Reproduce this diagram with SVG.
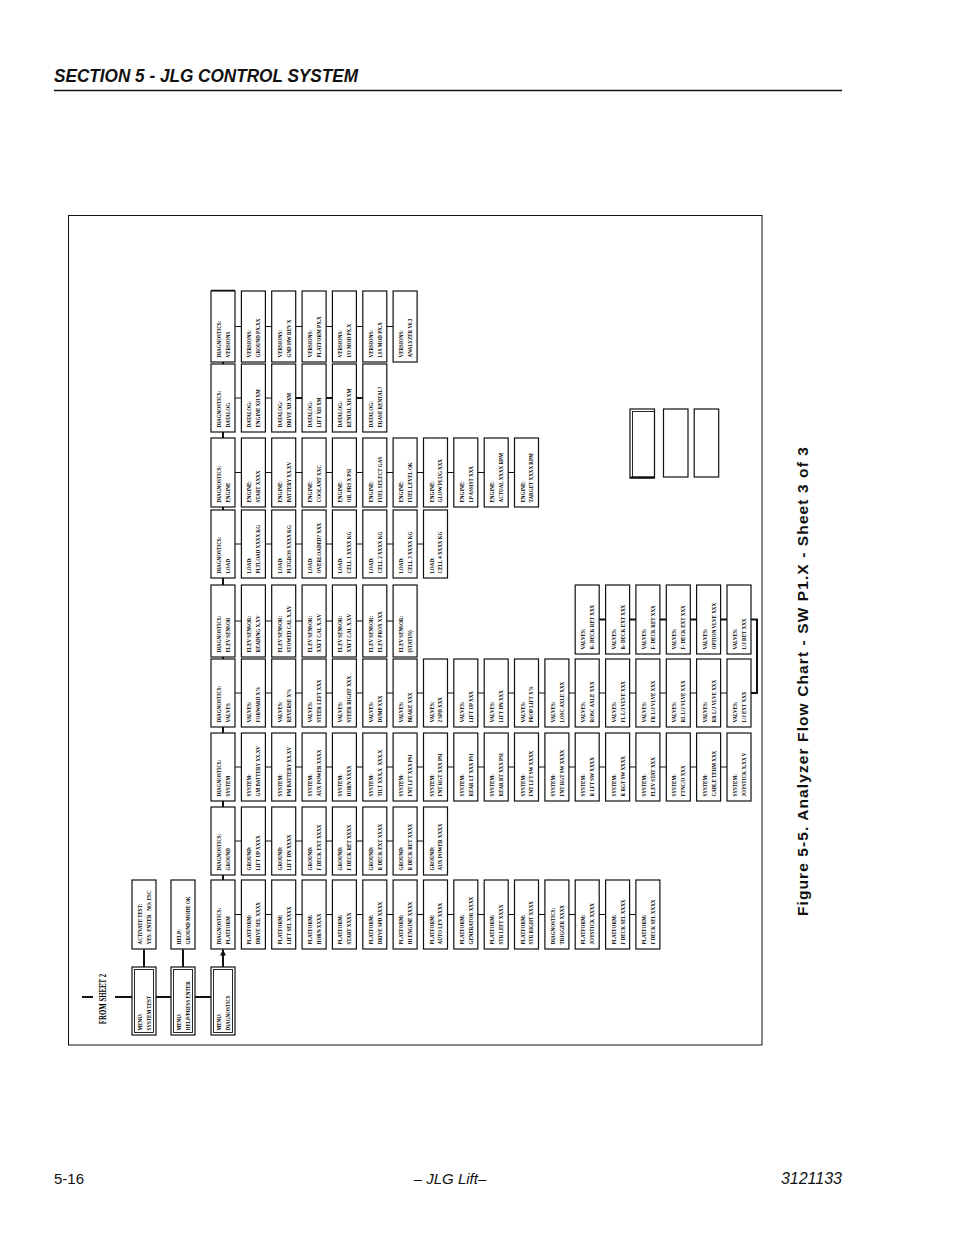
<svg xmlns="http://www.w3.org/2000/svg" width="954" height="1235" viewBox="0 0 954 1235">
<style>
.b{fill:#fff;stroke:#111;stroke-width:1.2}
.t{font-family:"Liberation Serif",serif;font-size:7px;font-weight:bold;fill:#000}
.c{fill:none;stroke:#111;stroke-width:1}
.k{fill:none;stroke:#111;stroke-width:2}
</style>
<defs>
<marker id="ah" viewBox="0 0 10 10" refX="10" refY="5" markerWidth="6" markerHeight="6" markerUnits="userSpaceOnUse" orient="auto"><path d="M0,0 L10,5 L0,10z" fill="#111"/></marker>
</defs>
<rect width="954" height="1235" fill="#fff"/>
<g id="page">
<text x="54" y="82" font-family="Liberation Sans,sans-serif" font-size="18" font-weight="bold" font-style="italic" fill="#111" textLength="304" lengthAdjust="spacingAndGlyphs">SECTION 5 - JLG CONTROL SYSTEM</text>
<line x1="54" y1="90.5" x2="842" y2="90.5" stroke="#111" stroke-width="1.5"/>
<rect x="68.5" y="215.5" width="693.5" height="829.5" fill="none" stroke="#111" stroke-width="1"/>
<text transform="translate(808,681) rotate(-90)" text-anchor="middle" font-family="Liberation Sans,sans-serif" font-size="15.5" font-weight="bold" letter-spacing="1.1" fill="#111">Figure 5-5. Analyzer Flow Chart - SW P1.X - Sheet 3 of 3</text>
<text x="54" y="1184" font-family="Liberation Sans,sans-serif" font-size="15" fill="#111">5-16</text>
<text x="450" y="1184" text-anchor="middle" font-family="Liberation Sans,sans-serif" font-size="15" font-style="italic" fill="#111">– JLG Lift–</text>
<text x="842" y="1184" text-anchor="end" font-family="Liberation Sans,sans-serif" font-size="16" font-style="italic" fill="#111">3121133</text>
</g>
<g id="connectors">
<path class="k" d="M223 880V362"/>
<path class="c" d="M235 914.5H635.9M235 841H423.5M235 767H727M235 693H727M235 621H393.1M235 544H423.5M235 472.5H514.5M235 398H362.8M235 326.5H393.1"/>
<path class="k" d="M599.2 619.5H727M751 693H757V619.5H751M295.7 398H362.8"/>
<line x1="211" y1="291" x2="235" y2="291" stroke="#111" stroke-width="2.5"/>
<line x1="82" y1="997" x2="93" y2="997" stroke="#111" stroke-width="2"/>
<path class="k" marker-end="url(#ah)" d="M115 997H132M156 997H171M195 997H211M144 967V949.5M183 967V949.5M223 967V949.5"/>
<text class="t" transform="translate(106,999) rotate(-90) scale(.72,1)" text-anchor="middle" style="font-size:9.5px">FROM SHEET 2</text>
</g>
<g id="menu-system-test"><rect class="b" x="132" y="967" width="24" height="68" stroke-width="1.6"/><rect x="134.5" y="969.5" width="19" height="63" fill="none" stroke="#111" stroke-width="0.9"/><text class="t" transform="translate(142,1030.5) rotate(-90) scale(.72,1)"><tspan x="0">MENU:</tspan><tspan x="0" y="9">SYSTEM TEST</tspan></text></g>
<g id="menu-help"><rect class="b" x="171" y="967" width="24" height="68" stroke-width="1.6"/><rect x="173.5" y="969.5" width="19" height="63" fill="none" stroke="#111" stroke-width="0.9"/><text class="t" transform="translate(181,1030.5) rotate(-90) scale(.72,1)"><tspan x="0">MENU:</tspan><tspan x="0" y="9">HELP/PRESS ENTER</tspan></text></g>
<g id="menu-diagnostics"><rect class="b" x="211" y="967" width="24" height="68" stroke-width="1.6"/><rect x="213.5" y="969.5" width="19" height="63" fill="none" stroke="#111" stroke-width="0.9"/><text class="t" transform="translate(221,1030.5) rotate(-90) scale(.72,1)"><tspan x="0">MENU:</tspan><tspan x="0" y="9">DIAGNOSTICS</tspan></text></g>
<g id="activate-test"><rect class="b" x="132" y="880" width="24" height="69"/><text class="t" xml:space="preserve" transform="translate(142,944.5) rotate(-90) scale(.72,1)"><tspan x="0">ACTIVATE TEST:</tspan><tspan x="0" y="9">YES: ENTER   NO: ESC</tspan></text></g>
<g id="help-ground"><rect class="b" x="171" y="880" width="24" height="69"/><text class="t" transform="translate(181,944.5) rotate(-90) scale(.72,1)"><tspan x="0">HELP:</tspan><tspan x="0" y="9">GROUND MODE OK</tspan></text></g>

<g id="platform-row">
<g id="p0"><rect class="b" x="211" y="880" width="24" height="69"/><text class="t" transform="translate(221,944.5) rotate(-90) scale(.72,1)"><tspan x="0">DIAGNOSTICS:</tspan><tspan x="0" y="9">PLATFORM</tspan></text></g>
<g id="p1"><rect class="b" x="241.4" y="880" width="24" height="69"/><text class="t" transform="translate(251.4,944.5) rotate(-90) scale(.72,1)"><tspan x="0">PLATFORM:</tspan><tspan x="0" y="9">DRIVE SEL XXXX</tspan></text></g>
<g id="p2"><rect class="b" x="271.7" y="880" width="24" height="69"/><text class="t" transform="translate(281.7,944.5) rotate(-90) scale(.72,1)"><tspan x="0">PLATFORM:</tspan><tspan x="0" y="9">LIFT SEL XXXX</tspan></text></g>
<g id="p3"><rect class="b" x="302.1" y="880" width="24" height="69"/><text class="t" transform="translate(312.1,944.5) rotate(-90) scale(.72,1)"><tspan x="0">PLATFORM:</tspan><tspan x="0" y="9">HORN XXXX</tspan></text></g>
<g id="p4"><rect class="b" x="332.4" y="880" width="24" height="69"/><text class="t" transform="translate(342.4,944.5) rotate(-90) scale(.72,1)"><tspan x="0">PLATFORM:</tspan><tspan x="0" y="9">START XXXX</tspan></text></g>
<g id="p5"><rect class="b" x="362.8" y="880" width="24" height="69"/><text class="t" transform="translate(372.8,944.5) rotate(-90) scale(.72,1)"><tspan x="0">PLATFORM:</tspan><tspan x="0" y="9">DRIVE SPD XXXX</tspan></text></g>
<g id="p6"><rect class="b" x="393.1" y="880" width="24" height="69"/><text class="t" transform="translate(403.1,944.5) rotate(-90) scale(.72,1)"><tspan x="0">PLATFORM:</tspan><tspan x="0" y="9">HI ENGINE XXXX</tspan></text></g>
<g id="p7"><rect class="b" x="423.5" y="880" width="24" height="69"/><text class="t" transform="translate(433.5,944.5) rotate(-90) scale(.72,1)"><tspan x="0">PLATFORM:</tspan><tspan x="0" y="9">AUTO LEV XXXX</tspan></text></g>
<g id="p8"><rect class="b" x="453.8" y="880" width="24" height="69"/><text class="t" transform="translate(463.8,944.5) rotate(-90) scale(.72,1)"><tspan x="0">PLATFORM:</tspan><tspan x="0" y="9">GENERATOR XXXX</tspan></text></g>
<g id="p9"><rect class="b" x="484.2" y="880" width="24" height="69"/><text class="t" transform="translate(494.2,944.5) rotate(-90) scale(.72,1)"><tspan x="0">PLATFORM:</tspan><tspan x="0" y="9">STR LEFT XXXX</tspan></text></g>
<g id="p10"><rect class="b" x="514.5" y="880" width="24" height="69"/><text class="t" transform="translate(524.5,944.5) rotate(-90) scale(.72,1)"><tspan x="0">PLATFORM:</tspan><tspan x="0" y="9">STR RIGHT XXXX</tspan></text></g>
<g id="p11"><rect class="b" x="544.9" y="880" width="24" height="69"/><text class="t" transform="translate(554.9,944.5) rotate(-90) scale(.72,1)"><tspan x="0">DIAGNOSTICS:</tspan><tspan x="0" y="9">TRIGGER XXXX</tspan></text></g>
<g id="p12"><rect class="b" x="575.2" y="880" width="24" height="69"/><text class="t" transform="translate(585.2,944.5) rotate(-90) scale(.72,1)"><tspan x="0">PLATFORM:</tspan><tspan x="0" y="9">JOYSTICK XXXX</tspan></text></g>
<g id="p13"><rect class="b" x="605.6" y="880" width="24" height="69"/><text class="t" transform="translate(615.6,944.5) rotate(-90) scale(.72,1)"><tspan x="0">PLATFORM:</tspan><tspan x="0" y="9">F DECK SEL XXXX</tspan></text></g>
<g id="p14"><rect class="b" x="635.9" y="880" width="24" height="69"/><text class="t" transform="translate(645.9,944.5) rotate(-90) scale(.72,1)"><tspan x="0">PLATFORM:</tspan><tspan x="0" y="9">F DECK SEL XXXX</tspan></text></g>
</g>

<g id="ground-row">
<g id="g0"><rect class="b" x="211" y="807" width="24" height="68"/><text class="t" transform="translate(221,870.5) rotate(-90) scale(.72,1)"><tspan x="0">DIAGNOSTICS:</tspan><tspan x="0" y="9">GROUND</tspan></text></g>
<g id="g1"><rect class="b" x="241.4" y="807" width="24" height="68"/><text class="t" transform="translate(251.4,870.5) rotate(-90) scale(.72,1)"><tspan x="0">GROUND:</tspan><tspan x="0" y="9">LIFT UP XXXX</tspan></text></g>
<g id="g2"><rect class="b" x="271.7" y="807" width="24" height="68"/><text class="t" transform="translate(281.7,870.5) rotate(-90) scale(.72,1)"><tspan x="0">GROUND:</tspan><tspan x="0" y="9">LIFT DN XXXX</tspan></text></g>
<g id="g3"><rect class="b" x="302.1" y="807" width="24" height="68"/><text class="t" transform="translate(312.1,870.5) rotate(-90) scale(.72,1)"><tspan x="0">GROUND:</tspan><tspan x="0" y="9">F DECK EXT XXXX</tspan></text></g>
<g id="g4"><rect class="b" x="332.4" y="807" width="24" height="68"/><text class="t" transform="translate(342.4,870.5) rotate(-90) scale(.72,1)"><tspan x="0">GROUND:</tspan><tspan x="0" y="9">F DECK RET XXXX</tspan></text></g>
<g id="g5"><rect class="b" x="362.8" y="807" width="24" height="68"/><text class="t" transform="translate(372.8,870.5) rotate(-90) scale(.72,1)"><tspan x="0">GROUND:</tspan><tspan x="0" y="9">R DECK EXT XXXX</tspan></text></g>
<g id="g6"><rect class="b" x="393.1" y="807" width="24" height="68"/><text class="t" transform="translate(403.1,870.5) rotate(-90) scale(.72,1)"><tspan x="0">GROUND:</tspan><tspan x="0" y="9">R DECK RET XXXX</tspan></text></g>
<g id="g7"><rect class="b" x="423.5" y="807" width="24" height="68"/><text class="t" transform="translate(433.5,870.5) rotate(-90) scale(.72,1)"><tspan x="0">GROUND:</tspan><tspan x="0" y="9">AUX POWER XXXX</tspan></text></g>
</g>

<g id="system-row">
<g id="s0"><rect class="b" x="211" y="733" width="24" height="68"/><text class="t" transform="translate(221,796.5) rotate(-90) scale(.72,1)"><tspan x="0">DIAGNOSTICS:</tspan><tspan x="0" y="9">SYSTEM</tspan></text></g>
<g id="s1"><rect class="b" x="241.4" y="733" width="24" height="68"/><text class="t" transform="translate(251.4,796.5) rotate(-90) scale(.72,1)"><tspan x="0">SYSTEM:</tspan><tspan x="0" y="9">GM BATTERY XX.XV</tspan></text></g>
<g id="s2"><rect class="b" x="271.7" y="733" width="24" height="68"/><text class="t" transform="translate(281.7,796.5) rotate(-90) scale(.72,1)"><tspan x="0">SYSTEM:</tspan><tspan x="0" y="9">PM BATTERY XX.XV</tspan></text></g>
<g id="s3"><rect class="b" x="302.1" y="733" width="24" height="68"/><text class="t" transform="translate(312.1,796.5) rotate(-90) scale(.72,1)"><tspan x="0">SYSTEM:</tspan><tspan x="0" y="9">AUX POWER XXXX</tspan></text></g>
<g id="s4"><rect class="b" x="332.4" y="733" width="24" height="68"/><text class="t" transform="translate(342.4,796.5) rotate(-90) scale(.72,1)"><tspan x="0">SYSTEM:</tspan><tspan x="0" y="9">HORN XXXX</tspan></text></g>
<g id="s5"><rect class="b" x="362.8" y="733" width="24" height="68"/><text class="t" xml:space="preserve" transform="translate(372.8,796.5) rotate(-90) scale(.72,1)"><tspan x="0">SYSTEM:</tspan><tspan x="0" y="9">TILT XXX.X  XXX.X</tspan></text></g>
<g id="s6"><rect class="b" x="393.1" y="733" width="24" height="68"/><text class="t" transform="translate(403.1,796.5) rotate(-90) scale(.72,1)"><tspan x="0">SYSTEM:</tspan><tspan x="0" y="9">FNT LFT XXX PSI</tspan></text></g>
<g id="s7"><rect class="b" x="423.5" y="733" width="24" height="68"/><text class="t" transform="translate(433.5,796.5) rotate(-90) scale(.72,1)"><tspan x="0">SYSTEM:</tspan><tspan x="0" y="9">FNT RGT XXX PSI</tspan></text></g>
<g id="s8"><rect class="b" x="453.8" y="733" width="24" height="68"/><text class="t" transform="translate(463.8,796.5) rotate(-90) scale(.72,1)"><tspan x="0">SYSTEM:</tspan><tspan x="0" y="9">REAR LT XXX PSI</tspan></text></g>
<g id="s9"><rect class="b" x="484.2" y="733" width="24" height="68"/><text class="t" transform="translate(494.2,796.5) rotate(-90) scale(.72,1)"><tspan x="0">SYSTEM:</tspan><tspan x="0" y="9">REAR RT XXX PSI</tspan></text></g>
<g id="s10"><rect class="b" x="514.5" y="733" width="24" height="68"/><text class="t" transform="translate(524.5,796.5) rotate(-90) scale(.72,1)"><tspan x="0">SYSTEM:</tspan><tspan x="0" y="9">FNT LFT SW XXXX</tspan></text></g>
<g id="s11"><rect class="b" x="544.9" y="733" width="24" height="68"/><text class="t" transform="translate(554.9,796.5) rotate(-90) scale(.72,1)"><tspan x="0">SYSTEM:</tspan><tspan x="0" y="9">FNT RGT SW XXXX</tspan></text></g>
<g id="s12"><rect class="b" x="575.2" y="733" width="24" height="68"/><text class="t" transform="translate(585.2,796.5) rotate(-90) scale(.72,1)"><tspan x="0">SYSTEM:</tspan><tspan x="0" y="9">R LFT SW XXXX</tspan></text></g>
<g id="s13"><rect class="b" x="605.6" y="733" width="24" height="68"/><text class="t" transform="translate(615.6,796.5) rotate(-90) scale(.72,1)"><tspan x="0">SYSTEM:</tspan><tspan x="0" y="9">R RGT SW XXXX</tspan></text></g>
<g id="s14"><rect class="b" x="635.9" y="733" width="24" height="68"/><text class="t" transform="translate(645.9,796.5) rotate(-90) scale(.72,1)"><tspan x="0">SYSTEM:</tspan><tspan x="0" y="9">ELEV STAT XXX</tspan></text></g>
<g id="s15"><rect class="b" x="666.3" y="733" width="24" height="68"/><text class="t" transform="translate(676.3,796.5) rotate(-90) scale(.72,1)"><tspan x="0">SYSTEM:</tspan><tspan x="0" y="9">FTNC/O XXX</tspan></text></g>
<g id="s16"><rect class="b" x="696.6" y="733" width="24" height="68"/><text class="t" transform="translate(706.6,796.5) rotate(-90) scale(.72,1)"><tspan x="0">SYSTEM:</tspan><tspan x="0" y="9">CABLE TERM XXX</tspan></text></g>
<g id="s17"><rect class="b" x="727" y="733" width="24" height="68"/><text class="t" transform="translate(737,796.5) rotate(-90) scale(.72,1)"><tspan x="0">SYSTEM:</tspan><tspan x="0" y="9">JOYSTICK X.XX V</tspan></text></g>
</g>

<g id="valves-row">
<g id="v0"><rect class="b" x="211" y="659" width="24" height="68"/><text class="t" transform="translate(221,722.5) rotate(-90) scale(.72,1)"><tspan x="0">DIAGNOSTICS:</tspan><tspan x="0" y="9">VALVES</tspan></text></g>
<g id="v1"><rect class="b" x="241.4" y="659" width="24" height="68"/><text class="t" transform="translate(251.4,722.5) rotate(-90) scale(.72,1)"><tspan x="0">VALVES:</tspan><tspan x="0" y="9">FORWARD X%</tspan></text></g>
<g id="v2"><rect class="b" x="271.7" y="659" width="24" height="68"/><text class="t" transform="translate(281.7,722.5) rotate(-90) scale(.72,1)"><tspan x="0">VALVES:</tspan><tspan x="0" y="9">REVERSE X%</tspan></text></g>
<g id="v3"><rect class="b" x="302.1" y="659" width="24" height="68"/><text class="t" transform="translate(312.1,722.5) rotate(-90) scale(.72,1)"><tspan x="0">VALVES:</tspan><tspan x="0" y="9">STEER LEFT XXX</tspan></text></g>
<g id="v4"><rect class="b" x="332.4" y="659" width="24" height="68"/><text class="t" transform="translate(342.4,722.5) rotate(-90) scale(.72,1)"><tspan x="0">VALVES:</tspan><tspan x="0" y="9">STEER RIGHT XXX</tspan></text></g>
<g id="v5"><rect class="b" x="362.8" y="659" width="24" height="68"/><text class="t" transform="translate(372.8,722.5) rotate(-90) scale(.72,1)"><tspan x="0">VALVES:</tspan><tspan x="0" y="9">DUMP XXX</tspan></text></g>
<g id="v6"><rect class="b" x="393.1" y="659" width="24" height="68"/><text class="t" transform="translate(403.1,722.5) rotate(-90) scale(.72,1)"><tspan x="0">VALVES:</tspan><tspan x="0" y="9">BRAKE XXX</tspan></text></g>
<g id="v7"><rect class="b" x="423.5" y="659" width="24" height="68"/><text class="t" transform="translate(433.5,722.5) rotate(-90) scale(.72,1)"><tspan x="0">VALVES:</tspan><tspan x="0" y="9">2 SPD XXX</tspan></text></g>
<g id="v8"><rect class="b" x="453.8" y="659" width="24" height="68"/><text class="t" transform="translate(463.8,722.5) rotate(-90) scale(.72,1)"><tspan x="0">VALVES:</tspan><tspan x="0" y="9">LIFT UP XXX</tspan></text></g>
<g id="v9"><rect class="b" x="484.2" y="659" width="24" height="68"/><text class="t" transform="translate(494.2,722.5) rotate(-90) scale(.72,1)"><tspan x="0">VALVES:</tspan><tspan x="0" y="9">LIFT DN XXX</tspan></text></g>
<g id="v10"><rect class="b" x="514.5" y="659" width="24" height="68"/><text class="t" transform="translate(524.5,722.5) rotate(-90) scale(.72,1)"><tspan x="0">VALVES:</tspan><tspan x="0" y="9">PROP LIFT X%</tspan></text></g>
<g id="v11"><rect class="b" x="544.9" y="659" width="24" height="68"/><text class="t" transform="translate(554.9,722.5) rotate(-90) scale(.72,1)"><tspan x="0">VALVES:</tspan><tspan x="0" y="9">LOSC AXLE XXX</tspan></text></g>
<g id="v12"><rect class="b" x="575.2" y="659" width="24" height="68"/><text class="t" transform="translate(585.2,722.5) rotate(-90) scale(.72,1)"><tspan x="0">VALVES:</tspan><tspan x="0" y="9">ROSC AXLE XXX</tspan></text></g>
<g id="v13"><rect class="b" x="605.6" y="659" width="24" height="68"/><text class="t" transform="translate(615.6,722.5) rotate(-90) scale(.72,1)"><tspan x="0">VALVES:</tspan><tspan x="0" y="9">FL L/J VLVE XXX</tspan></text></g>
<g id="v14"><rect class="b" x="635.9" y="659" width="24" height="68"/><text class="t" transform="translate(645.9,722.5) rotate(-90) scale(.72,1)"><tspan x="0">VALVES:</tspan><tspan x="0" y="9">FR L/J VLVE XXX</tspan></text></g>
<g id="v15"><rect class="b" x="666.3" y="659" width="24" height="68"/><text class="t" transform="translate(676.3,722.5) rotate(-90) scale(.72,1)"><tspan x="0">VALVES:</tspan><tspan x="0" y="9">RL L/J VLVE XXX</tspan></text></g>
<g id="v16"><rect class="b" x="696.6" y="659" width="24" height="68"/><text class="t" transform="translate(706.6,722.5) rotate(-90) scale(.72,1)"><tspan x="0">VALVES:</tspan><tspan x="0" y="9">RR L/J VLVE XXX</tspan></text></g>
<g id="v17"><rect class="b" x="727" y="659" width="24" height="68"/><text class="t" transform="translate(737,722.5) rotate(-90) scale(.72,1)"><tspan x="0">VALVES:</tspan><tspan x="0" y="9">L/J EXT XXX</tspan></text></g>
<g id="vu12"><rect class="b" x="575.2" y="585" width="24" height="69"/><text class="t" transform="translate(585.2,649.5) rotate(-90) scale(.72,1)"><tspan x="0">VALVES:</tspan><tspan x="0" y="9">R- DECK RET XXX</tspan></text></g>
<g id="vu13"><rect class="b" x="605.6" y="585" width="24" height="69"/><text class="t" transform="translate(615.6,649.5) rotate(-90) scale(.72,1)"><tspan x="0">VALVES:</tspan><tspan x="0" y="9">R- DECK EXT XXX</tspan></text></g>
<g id="vu14"><rect class="b" x="635.9" y="585" width="24" height="69"/><text class="t" transform="translate(645.9,649.5) rotate(-90) scale(.72,1)"><tspan x="0">VALVES:</tspan><tspan x="0" y="9">F- DECK RET XXX</tspan></text></g>
<g id="vu15"><rect class="b" x="666.3" y="585" width="24" height="69"/><text class="t" transform="translate(676.3,649.5) rotate(-90) scale(.72,1)"><tspan x="0">VALVES:</tspan><tspan x="0" y="9">F- DECK EXT XXX</tspan></text></g>
<g id="vu16"><rect class="b" x="696.6" y="585" width="24" height="69"/><text class="t" transform="translate(706.6,649.5) rotate(-90) scale(.72,1)"><tspan x="0">VALVES:</tspan><tspan x="0" y="9">OPTION VLVE XXX</tspan></text></g>
<g id="vu17"><rect class="b" x="727" y="585" width="24" height="69"/><text class="t" transform="translate(737,649.5) rotate(-90) scale(.72,1)"><tspan x="0">VALVES:</tspan><tspan x="0" y="9">L/J RET XXX</tspan></text></g>
</g>

<g id="elev-row">
<g id="e0"><rect class="b" x="211" y="585" width="24" height="72"/><text class="t" transform="translate(221,652.5) rotate(-90) scale(.72,1)"><tspan x="0">DIAGNOSTICS:</tspan><tspan x="0" y="9">ELEV SENSOR</tspan></text></g>
<g id="e1"><rect class="b" x="241.4" y="585" width="24" height="72"/><text class="t" transform="translate(251.4,652.5) rotate(-90) scale(.72,1)"><tspan x="0">ELEV SENSOR:</tspan><tspan x="0" y="9">READING X.XV</tspan></text></g>
<g id="e2"><rect class="b" x="271.7" y="585" width="24" height="72"/><text class="t" transform="translate(281.7,652.5) rotate(-90) scale(.72,1)"><tspan x="0">ELEV SENSOR:</tspan><tspan x="0" y="9">STOWED CAL X.XV</tspan></text></g>
<g id="e3"><rect class="b" x="302.1" y="585" width="24" height="72"/><text class="t" transform="translate(312.1,652.5) rotate(-90) scale(.72,1)"><tspan x="0">ELEV SENSOR:</tspan><tspan x="0" y="9">XXFT CAL X.XV</tspan></text></g>
<g id="e4"><rect class="b" x="332.4" y="585" width="24" height="72"/><text class="t" transform="translate(342.4,652.5) rotate(-90) scale(.72,1)"><tspan x="0">ELEV SENSOR:</tspan><tspan x="0" y="9">XXFT CAL X.XV</tspan></text></g>
<g id="e5"><rect class="b" x="362.8" y="585" width="24" height="72"/><text class="t" transform="translate(372.8,652.5) rotate(-90) scale(.72,1)"><tspan x="0">ELEV SENSOR:</tspan><tspan x="0" y="9">ELEV PROX XXX</tspan></text></g>
<g id="e6"><rect class="b" x="393.1" y="585" width="24" height="72"/><text class="t" transform="translate(403.1,652.5) rotate(-90) scale(.72,1)"><tspan x="0">ELEV SENSOR:</tspan><tspan x="0" y="9">(STATUS)</tspan></text></g>
</g>

<g id="load-row">
<g id="l0"><rect class="b" x="211" y="510" width="24" height="68"/><text class="t" transform="translate(221,573.5) rotate(-90) scale(.72,1)"><tspan x="0">DIAGNOSTICS:</tspan><tspan x="0" y="9">LOAD</tspan></text></g>
<g id="l1"><rect class="b" x="241.4" y="510" width="24" height="68"/><text class="t" transform="translate(251.4,573.5) rotate(-90) scale(.72,1)"><tspan x="0">LOAD:</tspan><tspan x="0" y="9">PLTLOAD XXXX KG</tspan></text></g>
<g id="l2"><rect class="b" x="271.7" y="510" width="24" height="68"/><text class="t" transform="translate(281.7,573.5) rotate(-90) scale(.72,1)"><tspan x="0">LOAD:</tspan><tspan x="0" y="9">PLTGROS XXXX KG</tspan></text></g>
<g id="l3"><rect class="b" x="302.1" y="510" width="24" height="68"/><text class="t" transform="translate(312.1,573.5) rotate(-90) scale(.72,1)"><tspan x="0">LOAD:</tspan><tspan x="0" y="9">OVERLOADED? XXX</tspan></text></g>
<g id="l4"><rect class="b" x="332.4" y="510" width="24" height="68"/><text class="t" transform="translate(342.4,573.5) rotate(-90) scale(.72,1)"><tspan x="0">LOAD:</tspan><tspan x="0" y="9">CELL 1 XXXX KG</tspan></text></g>
<g id="l5"><rect class="b" x="362.8" y="510" width="24" height="68"/><text class="t" transform="translate(372.8,573.5) rotate(-90) scale(.72,1)"><tspan x="0">LOAD:</tspan><tspan x="0" y="9">CELL 2 XXXX KG</tspan></text></g>
<g id="l6"><rect class="b" x="393.1" y="510" width="24" height="68"/><text class="t" transform="translate(403.1,573.5) rotate(-90) scale(.72,1)"><tspan x="0">LOAD:</tspan><tspan x="0" y="9">CELL 3 XXXX KG</tspan></text></g>
<g id="l7"><rect class="b" x="423.5" y="510" width="24" height="68"/><text class="t" transform="translate(433.5,573.5) rotate(-90) scale(.72,1)"><tspan x="0">LOAD:</tspan><tspan x="0" y="9">CELL 4 XXXX KG</tspan></text></g>
</g>

<g id="engine-row">
<g id="en0"><rect class="b" x="211" y="438" width="24" height="69"/><text class="t" transform="translate(221,502.5) rotate(-90) scale(.72,1)"><tspan x="0">DIAGNOSTICS:</tspan><tspan x="0" y="9">ENGINE</tspan></text></g>
<g id="en1"><rect class="b" x="241.4" y="438" width="24" height="69"/><text class="t" transform="translate(251.4,502.5) rotate(-90) scale(.72,1)"><tspan x="0">ENGINE:</tspan><tspan x="0" y="9">START XXXX</tspan></text></g>
<g id="en2"><rect class="b" x="271.7" y="438" width="24" height="69"/><text class="t" transform="translate(281.7,502.5) rotate(-90) scale(.72,1)"><tspan x="0">ENGINE:</tspan><tspan x="0" y="9">BATTERY XX.XV</tspan></text></g>
<g id="en3"><rect class="b" x="302.1" y="438" width="24" height="69"/><text class="t" transform="translate(312.1,502.5) rotate(-90) scale(.72,1)"><tspan x="0">ENGINE:</tspan><tspan x="0" y="9">COOLANT XXC</tspan></text></g>
<g id="en4"><rect class="b" x="332.4" y="438" width="24" height="69"/><text class="t" transform="translate(342.4,502.5) rotate(-90) scale(.72,1)"><tspan x="0">ENGINE:</tspan><tspan x="0" y="9">OIL PRS X PSI</tspan></text></g>
<g id="en5"><rect class="b" x="362.8" y="438" width="24" height="69"/><text class="t" transform="translate(372.8,502.5) rotate(-90) scale(.72,1)"><tspan x="0">ENGINE:</tspan><tspan x="0" y="9">FUEL SELECT GAS</tspan></text></g>
<g id="en6"><rect class="b" x="393.1" y="438" width="24" height="69"/><text class="t" transform="translate(403.1,502.5) rotate(-90) scale(.72,1)"><tspan x="0">ENGINE:</tspan><tspan x="0" y="9">FUEL LEVEL OK</tspan></text></g>
<g id="en7"><rect class="b" x="423.5" y="438" width="24" height="69"/><text class="t" transform="translate(433.5,502.5) rotate(-90) scale(.72,1)"><tspan x="0">ENGINE:</tspan><tspan x="0" y="9">GLOW PLUG XXX</tspan></text></g>
<g id="en8"><rect class="b" x="453.8" y="438" width="24" height="69"/><text class="t" transform="translate(463.8,502.5) rotate(-90) scale(.72,1)"><tspan x="0">ENGINE:</tspan><tspan x="0" y="9">LP ASSIST XXX</tspan></text></g>
<g id="en9"><rect class="b" x="484.2" y="438" width="24" height="69"/><text class="t" transform="translate(494.2,502.5) rotate(-90) scale(.72,1)"><tspan x="0">ENGINE:</tspan><tspan x="0" y="9">ACTUAL XXXX RPM</tspan></text></g>
<g id="en10"><rect class="b" x="514.5" y="438" width="24" height="69"/><text class="t" transform="translate(524.5,502.5) rotate(-90) scale(.72,1)"><tspan x="0">ENGINE:</tspan><tspan x="0" y="9">TARGET XXXX RPM</tspan></text></g>
</g>

<g id="datalog-row">
<g id="d0"><rect class="b" x="211" y="364" width="24" height="68"/><text class="t" transform="translate(221,427.5) rotate(-90) scale(.72,1)"><tspan x="0">DIAGNOSTICS:</tspan><tspan x="0" y="9">DATALOG</tspan></text></g>
<g id="d1"><rect class="b" x="241.4" y="364" width="24" height="68"/><text class="t" transform="translate(251.4,427.5) rotate(-90) scale(.72,1)"><tspan x="0">DATALOG:</tspan><tspan x="0" y="9">ENGINE XH XM</tspan></text></g>
<g id="d2"><rect class="b" x="271.7" y="364" width="24" height="68"/><text class="t" transform="translate(281.7,427.5) rotate(-90) scale(.72,1)"><tspan x="0">DATALOG:</tspan><tspan x="0" y="9">DRIVE XH XM</tspan></text></g>
<g id="d3"><rect class="b" x="302.1" y="364" width="24" height="68"/><text class="t" transform="translate(312.1,427.5) rotate(-90) scale(.72,1)"><tspan x="0">DATALOG:</tspan><tspan x="0" y="9">LIFT XH XM</tspan></text></g>
<g id="d4"><rect class="b" x="332.4" y="364" width="24" height="68"/><text class="t" transform="translate(342.4,427.5) rotate(-90) scale(.72,1)"><tspan x="0">DATALOG:</tspan><tspan x="0" y="9">RENTAL XH XM</tspan></text></g>
<g id="d5"><rect class="b" x="362.8" y="364" width="24" height="68"/><text class="t" transform="translate(372.8,427.5) rotate(-90) scale(.72,1)"><tspan x="0">DATALOG:</tspan><tspan x="0" y="9">ERASE RENTAL?</tspan></text></g>
</g>

<g id="versions-row">
<g id="r0"><rect class="b" x="211" y="291" width="24" height="71"/><text class="t" transform="translate(221,357.5) rotate(-90) scale(.72,1)"><tspan x="0">DIAGNOSTICS:</tspan><tspan x="0" y="9">VERSIONS</tspan></text></g>
<g id="r1"><rect class="b" x="241.4" y="291" width="24" height="71"/><text class="t" transform="translate(251.4,357.5) rotate(-90) scale(.72,1)"><tspan x="0">VERSIONS:</tspan><tspan x="0" y="9">GROUND PX.XX</tspan></text></g>
<g id="r2"><rect class="b" x="271.7" y="291" width="24" height="71"/><text class="t" transform="translate(281.7,357.5) rotate(-90) scale(.72,1)"><tspan x="0">VERSIONS:</tspan><tspan x="0" y="9">GND HW REV X</tspan></text></g>
<g id="r3"><rect class="b" x="302.1" y="291" width="24" height="71"/><text class="t" transform="translate(312.1,357.5) rotate(-90) scale(.72,1)"><tspan x="0">VERSIONS:</tspan><tspan x="0" y="9">PLATFORM PX.X</tspan></text></g>
<g id="r4"><rect class="b" x="332.4" y="291" width="24" height="71"/><text class="t" transform="translate(342.4,357.5) rotate(-90) scale(.72,1)"><tspan x="0">VERSIONS:</tspan><tspan x="0" y="9">I/O MOD PX.X</tspan></text></g>
<g id="r5"><rect class="b" x="362.8" y="291" width="24" height="71"/><text class="t" transform="translate(372.8,357.5) rotate(-90) scale(.72,1)"><tspan x="0">VERSIONS:</tspan><tspan x="0" y="9">LSS MOD PX.X</tspan></text></g>
<g id="r6"><rect class="b" x="393.1" y="291" width="24" height="71"/><text class="t" transform="translate(403.1,357.5) rotate(-90) scale(.72,1)"><tspan x="0">VERSIONS:</tspan><tspan x="0" y="9">ANALYZER V6.3</tspan></text></g>
</g>

<g id="empty-1"><rect class="b" x="630" y="409" width="24.5" height="69"/><rect x="632.5" y="411.5" width="22" height="65.5" fill="none" stroke="#111" stroke-width="0.9"/><line x1="630" y1="477.5" x2="654.5" y2="477.5" stroke="#111" stroke-width="2"/></g>
<g id="empty-2"><rect class="b" x="663.5" y="409" width="24.5" height="68"/></g>
<g id="empty-3"><rect class="b" x="694.2" y="409" width="24.5" height="68"/></g>
</svg>
